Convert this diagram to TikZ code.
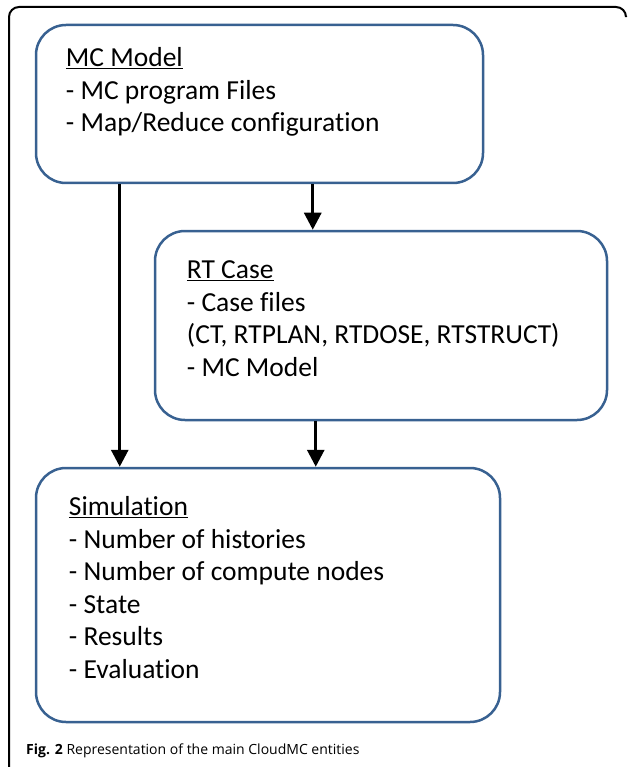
\documentclass[tikz,border=0pt]{standalone}
\usepackage{fontspec}
\setmainfont{Carlito}[Ligatures=NoCommon]
\newfontfamily\capfont{Open Sans}
\usetikzlibrary{arrows.meta,positioning}
\definecolor{boxblue}{RGB}{56,97,145}

\begin{document}
\begin{tikzpicture}[x=1pt,y=-1pt,
  entity/.style={draw=boxblue,line width=2.5pt,rounded corners=30pt,inner sep=0pt},
  items/.style={anchor=north west,align=left,inner sep=0pt,font=\fontsize{27.5}{32.5}\selectfont},
  link/.style={line width=3pt,-{Triangle[width=17pt,length=17pt]}}]
  \useasboundingbox (0,0) rectangle (627,767);
  % frame of the figure
  \draw[line width=2pt,rounded corners=10pt] (9,770) -- (9,7) -- (626,7) -- (626,16);
  % the three entities
  \node[entity,minimum width=447pt,minimum height=158pt] (mc) at (259.5,104) {};
  \node[entity,minimum width=452pt,minimum height=189pt] (rt) at (381,325.5) {};
  \node[entity,minimum width=464pt,minimum height=254pt] (sim) at (268,595) {};
  \node[items] (mctext) at ([xshift=31pt,yshift=-20.25pt]mc.north west)
    {\strut\underline{MC Model}\\- MC program Files\\- Map/Reduce configuration};
  \node[items] (rttext) at ([xshift=33pt,yshift=-26.25pt]rt.north west)
    {\strut\underline{RT Case}\\- Case files\\(CT, RTPLAN, RTDOSE, RTSTRUCT)\\- MC Model};
  \node[items] (simtext) at ([xshift=34pt,yshift=-26.25pt]sim.north west)
    {\strut\underline{Simulation}\\- Number of histories\\- Number of compute nodes\\- State\\- Results\\- Evaluation};
  % connectors
  \coordinate (rtin) at ([xshift=159pt]rt.north west);
  \coordinate (simin) at ([xshift=281pt]sim.north west);
  \draw[link] ([xshift=85pt]mc.south west) -- ([xshift=85pt]sim.north west);
  \draw[link] (mc.south -| rtin) -- (rtin);
  \draw[link] (rt.south -| simin) -- (simin);
  \node[anchor=base west,inner sep=0pt,font=\capfont\fontsize{14}{17}\selectfont] (caption) at (26,754)
    {\textbf{Fig. 2} Representation of the main CloudMC entities};
\end{tikzpicture}
\end{document}
